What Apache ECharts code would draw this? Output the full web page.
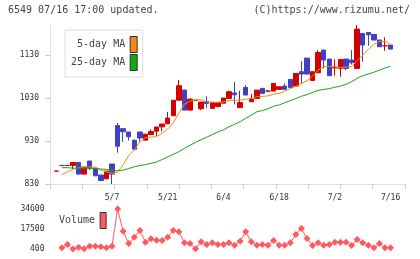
<!DOCTYPE html>
<html>
<head>
<meta charset="utf-8">
<script src="https://cdn.jsdelivr.net/npm/echarts/dist/echarts.min.js"></script>
<style>
    html, body { margin: 0; padding: 0; background: #fff; }
    #chart { width: 420px; height: 259px; }
</style>
</head>
<body>
<div id="chart"></div>
<script>
// trading days, 2 empty slots at the end
var dates = ['4/17', '4/20', '4/21', '4/22', '4/23', '4/24', '4/27', '4/28', '4/30', '5/1',
    '5/7', '5/8', '5/11', '5/12', '5/13', '5/14', '5/15', '5/18', '5/19', '5/20',
    '5/21', '5/22', '5/25', '5/26', '5/27', '5/28', '5/29', '6/1', '6/2', '6/3',
    '6/4', '6/5', '6/8', '6/9', '6/10', '6/11', '6/12', '6/15', '6/16', '6/17',
    '6/18', '6/19', '6/22', '6/23', '6/24', '6/25', '6/26', '6/29', '6/30', '7/1',
    '7/2', '7/3', '7/6', '7/7', '7/8', '7/9', '7/10', '7/13', '7/14', '7/15',
    '7/16', '', ''];
var tickLabels = ['5/7', '5/21', '6/4', '6/18', '7/2', '7/16'];
var priceTicks = [830, 930, 1030, 1130];
var volumeTicks = [400, 17500, 34600];

var opens = [860, 873.2, 873, 873, 880, 853, 883.5, 867, 851, 842,
    876.5, 966, 958.7, 951, 932, 951, 932, 945, 953, 963,
    970, 989, 1025, 1048.6, 1002, 1024.4, 1005, 1022, 1006, 1010,
    1018, 1029, 1042, 1008, 1054.8, 1021.5, 1029.2, 1052.5, 1046.3, 1046.3,
    1050.2, 1057.9, 1073.4, 1057.9, 1091.3, 1123, 1071, 1088.9, 1141.6, 1120.7,
    1100.5, 1099, 1120.7, 1118.4, 1099, 1180.4, 1182.7, 1178, 1165, 1151.7,
    1153.3];
var closes = [860, 873, 873, 880, 853, 869.5, 866, 849, 838, 860,
    853, 918, 951.7, 940, 911, 937, 946, 952, 962.6, 969.5,
    983.5, 1025, 1058.7, 1002, 1027.7, 1024.6, 1020.7, 1017.6, 1020, 1020,
    1030, 1044.7, 1037.5, 1019.4, 1037, 1027.7, 1048.6, 1040.8, 1046.3, 1064.1,
    1056.4, 1050.2, 1054.8, 1087.4, 1085.8, 1085.8, 1091.3, 1136.2, 1118.4, 1082,
    1100.5, 1120, 1099, 1112.2, 1190.5, 1153.3, 1177.3, 1165, 1149.4, 1151.7,
    1144];
var lows = [860, 873, 873, 865, 853, 853, 862.5, 849, 838, 842,
    830, 903, 927.7, 931, 911, 928.5, 932, 945, 941.6, 952.5,
    970, 989, 1025, 1002, 1002, 1024.4, 1002, 1007, 1006, 1010,
    1018, 1029, 1015, 1008, 1037, 1021.5, 1029.2, 1040.8, 1044, 1046.3,
    1050.2, 1050.2, 1054.8, 1057.9, 1064, 1085.8, 1071, 1088.9, 1099, 1082,
    1082, 1079.6, 1095, 1108, 1099, 1114.5, 1151.7, 1165, 1149.4, 1140,
    1144];
var highs = [860, 873.2, 873, 880, 880, 869.5, 883.5, 867, 851, 860,
    876.5, 972, 958.7, 951, 932, 951, 946, 957, 962.6, 969.5,
    998, 1025, 1072, 1048.6, 1027.7, 1024.6, 1020.7, 1034, 1020, 1020,
    1030, 1047, 1067, 1047, 1060, 1039.3, 1048.6, 1052.5, 1048, 1064.1,
    1056.4, 1064, 1073.4, 1087.4, 1116, 1123, 1091.3, 1141.6, 1141.6, 1120.7,
    1120, 1120, 1120.7, 1141.6, 1200, 1180.4, 1182.7, 1178, 1165, 1171,
    1153.3];

var ma5 = ['-', 852, 858, 864, 868, 869, 870, 869, 862, 858,
    855, 857, 875, 896, 909, 928, 938, 939, 940, 948,
    958, 972, 995, 1016, 1023, 1026, 1026, 1021, 1020, 1020,
    1021, 1024, 1025, 1025, 1027, 1029, 1033, 1034, 1035, 1039,
    1041, 1046, 1052, 1057, 1064, 1070, 1081, 1095, 1103, 1104,
    1103, 1101, 1102, 1103, 1117, 1130, 1143, 1155, 1162, 1162,
    1155];
var ma25 = ['-', 868, 868, 867, 867, 867, 866, 866, 865, 864,
    862, 861, 862, 866, 870, 873, 875, 878, 881, 887,
    893, 899, 905, 913, 920, 927, 933, 939, 945, 951,
    956, 963, 969, 975, 983, 990, 998, 1001, 1005, 1011,
    1014, 1019, 1024, 1029, 1034, 1038, 1043, 1048, 1050, 1052,
    1055, 1058, 1062, 1068, 1076, 1082, 1086, 1090, 1095, 1100,
    1104];
var volumes = ['-', 1400, 4250, 400, 1970, 540, 2820, 2820, 2250, 1400,
    2820, 34600, 15650, 5100, 10500, 16200, 6240, 9100, 7950, 7670,
    10500, 16200, 15080, 5670, 5100, 540, 6530, 4250, 5670, 4250,
    4250, 5670, 3680, 7100, 15080, 6530, 3680, 4250, 3680, 7670,
    3680, 3680, 5670, 12800, 17930, 9380, 3390, 5670, 3680, 4250,
    6240, 6240, 6240, 3390, 8520, 5670, 3680, 1400, 5100, 1400,
    1400];

var mono = 'DejaVu Sans Mono';

// candle rows for echarts: [open, close, low, high]
var candles = opens.map(function (o, i) {
    return [o, closes[i], lows[i], highs[i]];
});

// plain numbers, no thousands separator
function plain(v) {
    return String(v);
}

var chart = echarts.init(document.getElementById('chart'));
var option = {
    animation: false,
    backgroundColor: '#fff',
    title: [
        {
            text: '6549 07/16 17:00 updated.',
            left: 8, top: 5, padding: 0,
            textStyle: {fontSize: 10, fontWeight: 'normal', fontFamily: mono, color: '#444'}
        },
        {
            text: '(C)https://www.rizumu.net/',
            right: 10, top: 5, padding: 0,
            textStyle: {fontSize: 10, fontWeight: 'normal', fontFamily: mono, color: '#444'}
        }
    ],
    legend: [
        {
            data: ['5-day MA', '25-day MA'],
            orient: 'vertical',
            align: 'right',
            left: 65, top: 30,
            padding: [6, 5, 6, 6],
            itemGap: 1,
            itemWidth: 7, itemHeight: 16,
            icon: 'rect',
            borderColor: '#ddd', borderWidth: 1,
            backgroundColor: '#fff',
            itemStyle: {borderColor: '#333', borderWidth: 1},
            textStyle: {fontSize: 10, fontFamily: mono, color: '#444'}
        },
        {
            data: ['Volume'],
            align: 'right',
            left: 59, top: 212,
            padding: 0,
            itemWidth: 6, itemHeight: 16,
            icon: 'rect',
            itemStyle: {borderColor: '#333', borderWidth: 1},
            textStyle: {fontSize: 10, fontFamily: mono, color: '#444'}
        }
    ],
    grid: [
        {left: 53.5, width: 351, top: 25, height: 159},   // candles
        {left: 50, right: 15, top: 25, height: 159},      // frame ticks
        {left: 53.5, width: 351, top: 209, height: 40}    // volume
    ],
    xAxis: [
        {
            type: 'category', gridIndex: 0, data: dates,
            axisLine: {show: false},
            axisTick: {show: false},
            axisLabel: {
                interval: function (i, v) { return tickLabels.indexOf(v) >= 0; },
                fontSize: 8, fontFamily: mono, color: '#333', margin: 10
            }
        },
        {
            type: 'value', gridIndex: 1, min: 0, max: 11, interval: 1,
            axisLine: {lineStyle: {color: '#ddd'}},
            axisTick: {length: 5, lineStyle: {color: '#ccc'}},
            axisLabel: {show: false},
            splitLine: {show: false}
        },
        {
            type: 'category', gridIndex: 2, data: dates, show: false
        }
    ],
    yAxis: [
        {
            type: 'value', gridIndex: 0, min: 830, max: 1200, offset: 3.5,
            axisLine: {show: true, lineStyle: {color: '#ddd'}},
            axisTick: {show: true, length: 5, customValues: priceTicks, lineStyle: {color: '#ccc'}},
            axisLabel: {customValues: priceTicks, formatter: plain, fontSize: 8, fontFamily: mono, color: '#333', margin: 11},
            splitLine: {show: false}
        },
        {
            type: 'value', gridIndex: 1, min: 830, max: 1200, show: false
        },
        {
            type: 'value', gridIndex: 2, min: 400, max: 34600,
            axisLine: {show: false},
            axisTick: {show: false},
            axisLabel: {customValues: volumeTicks, formatter: plain, fontSize: 8, fontFamily: mono, color: '#333', margin: 9},
            splitLine: {show: false}
        }
    ],
    series: [
        {
            name: 'price',
            type: 'candlestick',
            xAxisIndex: 0, yAxisIndex: 0,
            barWidth: 5,
            itemStyle: {
                color: '#d40000', color0: '#4040c0',
                borderColor: '#d40000', borderColor0: '#4040c0',
                borderWidth: 1
            },
            data: candles
        },
        {
            name: '5-day MA',
            type: 'line',
            xAxisIndex: 0, yAxisIndex: 0,
            symbol: 'none',
            color: '#f28a12',
            lineStyle: {width: 1, color: '#f28a12'},
            data: ma5
        },
        {
            name: '25-day MA',
            type: 'line',
            xAxisIndex: 0, yAxisIndex: 0,
            symbol: 'none',
            color: '#13a813',
            lineStyle: {width: 1, color: '#13a813'},
            data: ma25
        },
        {
            name: 'Volume',
            type: 'line',
            xAxisIndex: 2, yAxisIndex: 2,
            symbol: 'diamond',
            symbolSize: 7,
            showAllSymbol: true,
            clip: false,
            color: '#ff5a5f',
            lineStyle: {width: 1, color: '#ff5a5f'},
            itemStyle: {color: '#ff5a5f'},
            data: volumes
        }
    ]
};
chart.setOption(option);
</script>
</body>
</html>
